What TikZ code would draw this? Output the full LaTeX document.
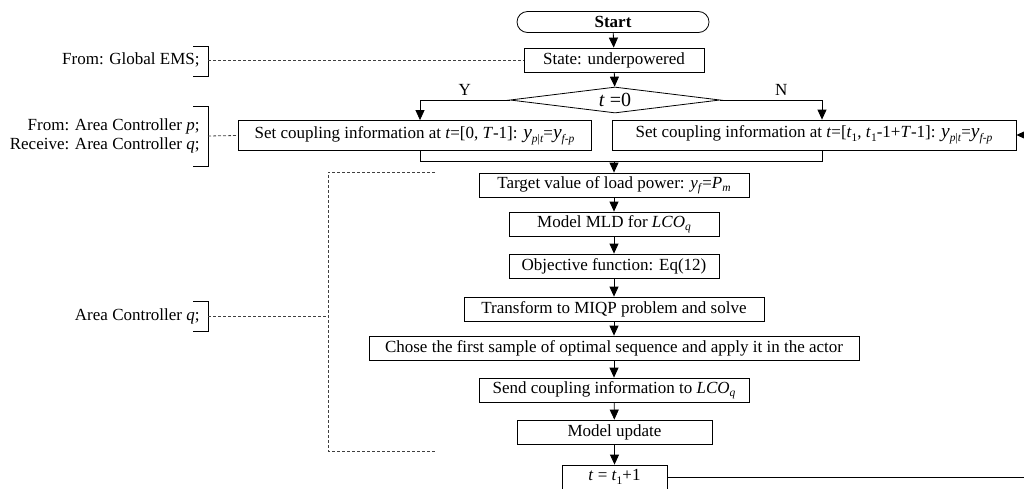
\documentclass[tikz,border=0pt]{standalone}
\usepackage{fontspec}
\setmainfont{Liberation Serif}
\usetikzlibrary{shapes.geometric,arrows.meta,calc}
\newcommand{\sbx}[1]{\raisebox{-0.45ex}{\fontsize{11.5}{11.5}\selectfont #1}}
\newcommand{\bigy}{{\fontsize{19.5}{19.5}\selectfont\textit{y}}}
\begin{document}
\begin{tikzpicture}[x=1pt,y=-1pt, line width=0.8pt, font=\fontsize{17}{19}\selectfont,
 pbox/.style={draw, rectangle, inner sep=0pt, minimum height=24pt},
 arr/.style={-{Triangle[length=10pt,width=9pt]}},
 dsh/.style={draw=black!75, dash pattern=on 3pt off 2pt, line width=0.8pt},
 lbl/.style={inner sep=0pt, align=right, anchor=east},
 brk/.style={draw, line width=0.8pt}]
\useasboundingbox (0,0) rectangle (1024,488);
\clip (0,0) rectangle (1024,488);

% main chain
\node[pbox, minimum width=192pt, minimum height=21pt, rounded corners=10.5pt] (start) at (613,22) {\textbf{Start}};
\node[pbox, minimum width=180pt] (state) at (614,60) {State: underpowered};
\node[draw, diamond, aspect=8, inner sep=0pt, minimum width=210pt, minimum height=26pt] (dia) at (615,100) {{\fontsize{20}{20}\selectfont\textit{t} =0}};
\node[pbox, minimum width=353pt, minimum height=30pt] (lbox) at (414.5,135.5) {Set coupling information at \textit{t}=[0, \textit{T}-1]: \bigy\sbx{\textit{p}|\textit{t}}=\bigy\sbx{\textit{f-p}}};
\node[pbox, minimum width=404pt, minimum height=30pt] (rbox) at (814,135) {Set coupling information at \textit{t}=[\textit{t}\sbx{1}, \textit{t}\sbx{1}-1+\textit{T}-1]: \bigy\sbx{\textit{p}|\textit{t}}=\bigy\sbx{\textit{f-p}}};
\node[pbox, minimum width=270pt] (target) at (614,185) {Target value of load power: \textit{y}\sbx{\textit{f}}=\textit{P}\sbx{\textit{m}}};
\node[pbox, minimum width=210pt] (mld) at (614,224) {Model MLD for \textit{LCO}\sbx{\textit{q}}};
\node[pbox, minimum width=210pt] (obj) at (614,266) {Objective function: Eq(12)};
\node[pbox, minimum width=300pt] (miqp) at (614,309) {Transform to MIQP problem and solve};
\node[pbox, minimum width=490pt] (chose) at (614,348) {Chose the first sample of optimal sequence and apply it in the actor};
\node[pbox, minimum width=270pt] (send) at (614,390) {Send coupling information to \textit{LCO}\sbx{\textit{q}}};
\node[pbox, minimum width=195pt] (upd) at (614.5,432) {Model update};
\node[pbox, minimum width=105pt] (tt) at (614.5,477) {\textit{t} = \textit{t}\sbx{1}+1};

\draw[arr] (start) -- (state);
\draw[arr] (state) -- (dia);
\draw[arr] (dia.west) -| ([xshift=5.5pt]lbox.north) node[pos=0.25, above=1pt] {Y};
\draw[arr] (dia.east) -| ([xshift=8pt]rbox.north) node[pos=0.3, above=1pt] {N};
\coordinate (m) at (614,161);
\draw ([xshift=5.5pt]lbox.south) |- (m);
\draw ([xshift=8pt]rbox.south) |- (m);
\draw[arr] (m) -- (target);
\draw[arr] (target) -- (mld);
\draw[arr] (mld) -- (obj);
\draw[arr] (obj) -- (miqp);
\draw[arr] (miqp) -- (chose);
\draw[arr] (chose) -- (send);
\draw[arr] (send) -- (upd);
\draw[arr] (upd) -- (tt);
\coordinate (loopA) at (1040,477);
\coordinate (loopB) at (1040,135);
\draw[arr] (tt.east) -- (loopA) -- (loopB) -- (rbox.east);

% left annotations
\node[lbl] (ems) at (200,60) {From: Global EMS;};
\node[lbl] (acp) at (200,136) {From: Area Controller \textit{p};\\Receive: Area Controller \textit{q};};
\node[lbl] (acq) at (200,316) {Area Controller \textit{q};};
\coordinate (b1) at (208,60);
\coordinate (b2) at (208,136);
\coordinate (b3) at (208,316);
\draw[brk] (193,46) -- (208,46) -- (208,76) -- (193,76);
\draw[brk] (193,106) -- (208,106) -- (208,166) -- (193,166);
\draw[brk] (193,301) -- (208,301) -- (208,331) -- (193,331);
\draw[dsh] (b1) -- (state.west);
\draw[dsh] (b2) -- (lbox.west);
\coordinate (g) at (328,316);
\draw[dsh] (b3) -- (g);
\draw[dsh] (435,172) -- (328,172) -- (328,451) -- (435,451);
\end{tikzpicture}
\end{document}
